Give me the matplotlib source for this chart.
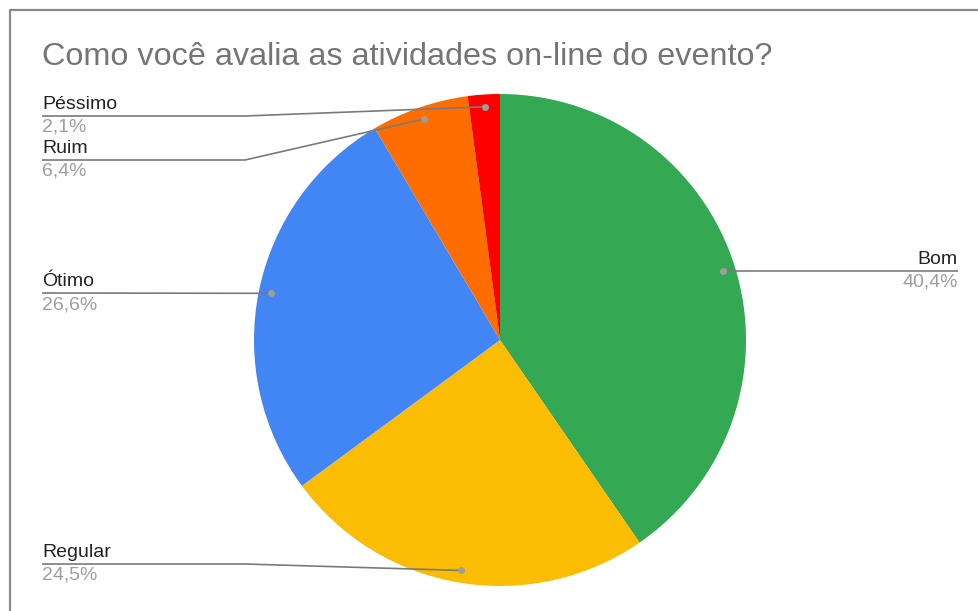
import numpy as np
import matplotlib.pyplot as plt

plt.rcParams["font.family"] = ["Liberation Sans", "DejaVu Sans"]

# respostas (porcentagem) na ordem horária a partir do topo
categorias = ["Bom", "Regular", "Ótimo", "Ruim", "Péssimo"]
valores = [40.4, 24.5, 26.6, 6.4, 2.1]
cores = ["#34A853", "#FBBC04", "#4285F4", "#FF6D01", "#FF0000"]
rotulos_pct = ["40,4%", "24,5%", "26,6%", "6,4%", "2,1%"]

W, H = 979, 611
CX, CY, R = 500, 340, 246


def py(y):
    # coordenada y medida de cima para baixo
    return H - y


fig = plt.figure(figsize=(W / 100, H / 100), dpi=100)
ax = fig.add_axes([0, 0, 1, 1])

ax.pie(valores, colors=cores, startangle=90, counterclock=False,
       center=(CX, py(CY)), radius=R, frame=True,
       wedgeprops=dict(linewidth=0, antialiased=True))
ax.set_xlim(0, W)
ax.set_ylim(0, H)
ax.set_aspect("equal")
ax.axis("off")

# borda do gráfico (só esquerda e topo visíveis)
ax.plot([10, 10, W], [0, py(10), py(10)], color="#8a8a8a", lw=1.6,
        solid_capstyle="butt", clip_on=False)

ax.text(42, py(57), "Como você avalia as atividades on-line do evento?",
        fontsize=23.3, color="#757575", va="center", ha="left")

# ângulo médio de cada fatia
total = sum(valores)
inicio = 90.0
medios = []
for v in valores:
    ang = 360.0 * v / total
    medios.append(inicio - ang / 2)
    inicio -= ang

# posição da linha de cada rótulo: (lado, y da linha, x do cotovelo)
layout = {
    "Bom": ("dir", None, None),
    "Regular": ("esq", 564, 245),
    "Ótimo": ("esq", 293, None),
    "Ruim": ("esq", 160, 245),
    "Péssimo": ("esq", 116, 245),
}

cor_linha = "#7a7a7a"
for nome, pct, med in zip(categorias, rotulos_pct, medios):
    lado, ly, cotovelo = layout[nome]
    a = np.radians(med)
    dx = CX + 0.95 * R * np.cos(a)
    dy = py(CY) + 0.95 * R * np.sin(a)
    if lado == "dir":
        yl = dy
        xs = [dx, 958]
        ys = [dy, dy]
        tx, ha = 958, "right"
    else:
        yl = py(ly)
        if cotovelo is None:
            xs = [42, dx]
            ys = [yl, dy]
        else:
            xs = [42, cotovelo, dx]
            ys = [yl, yl, dy]
        tx, ha = 42, "left"
    ax.plot(xs, ys, color=cor_linha, lw=1.2, solid_capstyle="butt")
    ax.plot([dx], [dy], "o", color="#9e9e9e", ms=5, mec="none")
    ax.text(tx, yl + 3, nome, fontsize=14, color="#222222",
            ha=ha, va="bottom")
    ax.text(tx, yl - 3, pct, fontsize=14, color="#9e9e9e",
            ha=ha, va="top")

fig.savefig("out.png", dpi=100, facecolor="white")
